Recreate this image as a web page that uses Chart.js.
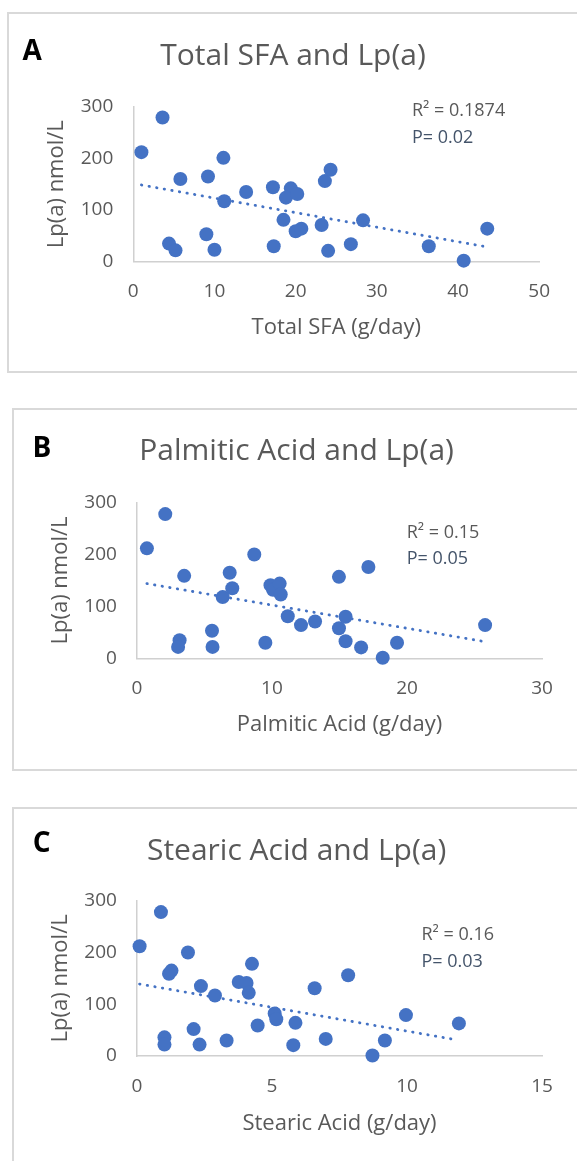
<!DOCTYPE html>
<html><head><meta charset="utf-8">
<script src="https://cdn.jsdelivr.net/npm/chart.js@4"></script>
<style>
html,body{margin:0;padding:0;background:#fff;overflow:hidden;}
body{width:577px;height:1161px;position:relative;}
.box{position:absolute;border:2px solid #d9d9d9;box-sizing:border-box;}
canvas{position:absolute;left:0;}
</style></head><body>
<div class="box" style="left:7px;top:12px;width:620px;height:361px"></div>
<div class="box" style="left:12px;top:408px;width:620px;height:363px"></div>
<div class="box" style="left:12px;top:807px;width:620px;height:400px"></div>
<canvas id="cA" width="577" height="390" style="top:0px;width:577px;height:390px"></canvas>
<canvas id="cB" width="577" height="400" style="top:390px;width:577px;height:400px"></canvas>
<canvas id="cC" width="577" height="371" style="top:790px;width:577px;height:371px"></canvas>
<script>
// ---- data ----
const sfaX = [1.0, 3.6, 5.8, 9.2, 11.1, 11.2, 13.9, 17.2, 19.4, 18.8, 20.2, 23.6, 24.3, 18.5, 20.0, 20.7, 23.2, 28.3, 4.4, 5.2, 9.0, 10.0, 17.3, 24.0, 26.8, 36.4, 40.7, 43.6];
const sfaY = [212, 279, 160, 165, 201, 117, 135, 144, 142, 124, 131, 156, 178, 81, 59, 64, 71, 80, 35, 22, 53, 23, 30, 21, 34, 30, 2, 64];
const sfaTrendX = [1.0, 43.6];
const sfaTrendY = [148.5, 28.5];

const palX = [0.74, 2.1, 3.5, 3.16, 3.05, 5.56, 5.6, 6.35, 6.87, 7.06, 8.69, 9.51, 9.89, 10.08, 10.57, 10.65, 11.17, 12.15, 13.19, 14.96, 14.96, 15.45, 15.45, 16.6, 17.14, 18.2, 19.26, 25.78];
const palY = [212, 278, 159, 35, 22, 53, 22, 118, 165, 135, 200, 30, 141, 132, 144, 123, 81, 64, 71, 157, 58, 80, 33, 21, 176, 1, 30, 64];
const palTrendX = [0.74, 25.78];
const palTrendY = [144, 32];

const steX = [0.1, 0.89, 1.89, 1.19, 1.28, 2.37, 2.89, 3.77, 4.06, 4.14, 4.26, 5.1, 5.16, 4.47, 5.87, 6.58, 7.82, 2.1, 1.02, 1.02, 2.32, 3.32, 5.79, 6.99, 8.72, 9.18, 9.96, 11.92];
const steY = [212, 278, 200, 159, 165, 135, 117, 143, 141, 122, 178, 82, 71, 59, 64, 131, 156, 52, 36, 22, 22, 30, 21, 33, 1, 30, 79, 63];
const steTrendX = [0.1, 11.8];
const steTrendY = [139, 31.5];

const xTicksSfa = [0, 50, 10];
const xTicksPal = [0, 30, 10];
const xTicksSte = [0, 15, 5];
const yTicks = [0, 300, 100];

const titles = ['Total SFA and Lp(a)', 'Palmitic Acid and Lp(a)', 'Stearic Acid and Lp(a)'];
const xTitles = ['Total SFA (g/day)', 'Palmitic Acid (g/day)', 'Stearic Acid (g/day)'];
const yTitle = 'Lp(a) nmol/L';
const letters = ['A', 'B', 'C'];
const r2Texts = ['R\u00B2 = 0.1874', 'R\u00B2 = 0.15', 'R\u00B2 = 0.16'];
const pTexts = ['P= 0.02', 'P= 0.05', 'P= 0.03'];

const FONT = '"Open Sans", sans-serif';
const BLUE = '#4472C4';
const GREY = '#595959';

function makePanel(id, i, xs, ys, tx, ty, xt, g) {
  const el = document.getElementById(id);
  const H = el.height;
  new Chart(el, {
    type: 'scatter',
    data: { datasets: [
      { data: xs.map((x, k) => ({x: x, y: ys[k]})), backgroundColor: BLUE, borderColor: BLUE, borderWidth: 0,
        pointRadius: 7, pointHoverRadius: 7, order: 1, clip: false },
      { data: tx.map((x, k) => ({x: x, y: ty[k]})), showLine: true, borderColor: BLUE, borderWidth: 2.8,
        borderDash: [0.4, 7.3], borderCapStyle: 'round', pointRadius: 0, order: 2, clip: false, fill: false }
    ]},
    options: {
      responsive: false, animation: false, events: [],
      layout: { padding: { left: 0, right: 577 - g.right, top: g.top, bottom: 0 } },
      plugins: { legend: { display: false }, tooltip: { enabled: false }, title: { display: false } },
      scales: {
        x: {
          type: 'linear', min: xt[0], max: xt[1],
          ticks: { stepSize: xt[2], padding: g.xTickPad, color: GREY, font: { family: FONT, size: 19 } },
          grid: { display: false, drawTicks: false },
          border: { display: true, color: '#d0d0d0', width: 1.5 },
          title: { display: true, text: xTitles[i], color: GREY, font: { family: FONT, size: 22 },
                   padding: { top: 0, bottom: H - g.xTitleY - 13.2 } },
          afterFit: (s) => { s.height = H - g.bottom; }
        },
        y: {
          type: 'linear', min: yTicks[0], max: yTicks[1],
          ticks: { stepSize: yTicks[2], padding: 20, color: GREY, font: { family: FONT, size: 19 } },
          grid: { display: false, drawTicks: false },
          border: { display: true, color: '#d0d0d0', width: 1.5 },
          title: { display: true, text: yTitle, color: GREY, font: { family: FONT, size: 22 },
                   padding: { top: g.yTitleX - 13.2, bottom: 0 } },
          afterFit: (s) => { s.width = g.left; }
        }
      }
    },
    plugins: [{
      id: 'deco',
      afterDraw(chart) {
        const c = chart.ctx;
        c.save();
        c.textBaseline = 'alphabetic';
        c.fillStyle = '#000';
        c.textAlign = 'left';
        c.font = 'bold 28px ' + FONT;
        c.fillText(letters[i], g.letterX, g.letterY);
        c.fillStyle = GREY;
        c.textAlign = 'center';
        c.font = '30px ' + FONT;
        c.fillText(titles[i], g.titleX, g.titleY);
        c.textAlign = 'left';
        c.font = '18px ' + FONT;
        c.fillText(r2Texts[i], g.statX, g.statY);
        c.fillStyle = '#44546A';
        c.fillText(pTexts[i], g.statX, g.statY + 26.5);
        c.restore();
      }
    }]
  });
}

makePanel('cA', 0, sfaX, sfaY, sfaTrendX, sfaTrendY, xTicksSfa,
  { left: 133.3, right: 539.2, top: 106.7, bottom: 261.7, xTickPad: 18.6, xTitleY: 328, yTitleX: 57,
    letterX: 22.5, letterY: 60, titleX: 293, titleY: 65, statX: 412, statY: 116 });
makePanel('cB', 1, palX, palY, palTrendX, palTrendY, xTicksPal,
  { left: 136.9, right: 542.1, top: 112.7, bottom: 268.3, xTickPad: 18.6, xTitleY: 334.3, yTitleX: 60.7,
    letterX: 32.4, letterY: 66.7, titleX: 296.6, titleY: 69.7, statX: 406.7, statY: 147.7 });
makePanel('cC', 2, steX, steY, steTrendX, steTrendY, xTicksSte,
  { left: 136.9, right: 542.1, top: 110.7, bottom: 266, xTickPad: 19.3, xTitleY: 333.3, yTitleX: 60.7,
    letterX: 32.7, letterY: 62, titleX: 296.6, titleY: 69.7, statX: 421.4, statY: 150 });
</script>
</body></html>
